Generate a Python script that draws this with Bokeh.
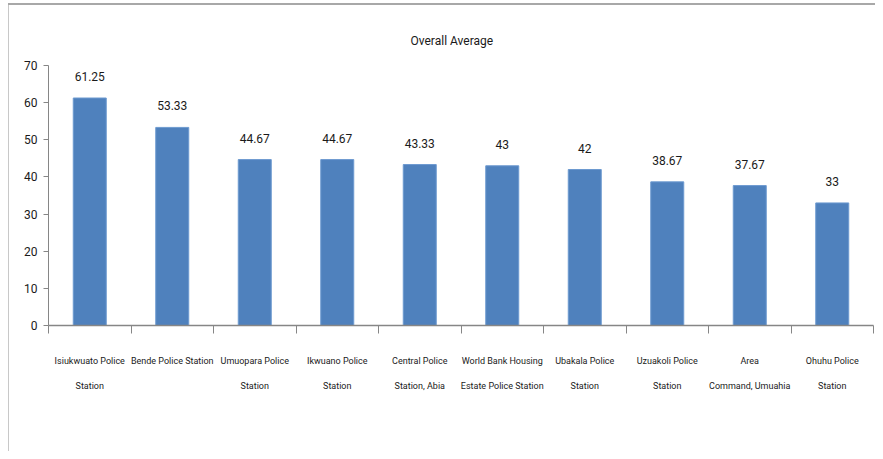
from bokeh.plotting import figure
from bokeh.models import ColumnDataSource, FixedTicker, Title, Range1d
from bokeh.embed import file_html
from bokeh.resources import INLINE
from bokeh.core.properties import value

stations = [
    "Isiukwuato Police\nStation",
    "Bende Police Station",
    "Umuopara Police\nStation",
    "Ikwuano Police\nStation",
    "Central Police\nStation, Abia",
    "World Bank Housing\nEstate Police Station",
    "Ubakala Police\nStation",
    "Uzuakoli Police\nStation",
    "Area\nCommand, Umuahia",
    "Ohuhu Police\nStation",
]
averages = [61.25, 53.33, 44.67, 44.67, 43.33, 43, 42, 38.67, 37.67, 33]
value_labels = ["61.25", "53.33", "44.67", "44.67", "43.33", "43", "42", "38.67", "37.67", "33"]
y_ticks = [0, 10, 20, 30, 40, 50, 60, 70]

FONT = "Roboto"
TEXT = "#1a1a1a"
AXIS = "#868686"

n = len(stations)
centers = [i + 0.5 for i in range(n)]
bounds = list(range(n + 1))

src = ColumnDataSource(dict(x=centers, top=averages, lab=value_labels))

frame_css = ("linear-gradient(#a8a8a8,#a8a8a8) 8px 3px / 100% 2px no-repeat, "
             "linear-gradient(#c8c8c8,#c8c8c8) 8px 3px / 1px 100% no-repeat, #ffffff")

p = figure(width=875, height=451, x_range=Range1d(0, n), y_range=Range1d(0, 70),
           output_backend="svg", toolbar_location=None,
           min_border_left=48, min_border_right=2, min_border_top=65, min_border_bottom=126,
           styles={"background": frame_css})
p.border_fill_color = None
p.background_fill_color = None
p.outline_line_color = None
p.xgrid.visible = False
p.ygrid.visible = False

p.add_layout(Title(text="Overall Average", align="left", text_font=FONT,
                   text_font_size="12px", text_font_style="normal", text_color=TEXT,
                   offset=362, standoff=36), "above")

p.vbar(x="x", top="top", width=0.4, bottom=0, source=src,
       fill_color="#4F81BD", line_color="#6d9ad0", line_width=1)
p.text(x="x", y="top", text="lab", source=src, text_align="center", text_baseline="bottom",
       y_offset=-17, text_font=value(FONT), text_font_size="12px", text_color=TEXT)

ya = p.yaxis[0]
ya.ticker = FixedTicker(ticks=y_ticks)
ya.major_tick_out = 5
ya.major_tick_in = 0
ya.minor_tick_line_color = None
ya.axis_line_color = AXIS
ya.major_tick_line_color = AXIS
ya.major_label_text_font = FONT
ya.major_label_text_font_size = "12px"
ya.major_label_text_color = TEXT
ya.major_label_standoff = 6

xa = p.xaxis[0]
xa.ticker = FixedTicker(ticks=centers, minor_ticks=bounds)
xa.major_tick_line_color = None
xa.major_tick_out = 0
xa.major_tick_in = 0
xa.minor_tick_out = 8
xa.minor_tick_in = 0
xa.minor_tick_line_color = AXIS
xa.axis_line_color = AXIS
xa.axis_line_width = 1.5
xa.major_label_overrides = {c: s for c, s in zip(centers, stations)}
xa.major_label_text_font = FONT
xa.major_label_text_font_size = "9px"
xa.major_label_text_color = TEXT
xa.major_label_text_line_height = 2.5
xa.major_label_standoff = 22

open("out.html", "w").write(file_html(p, INLINE))
